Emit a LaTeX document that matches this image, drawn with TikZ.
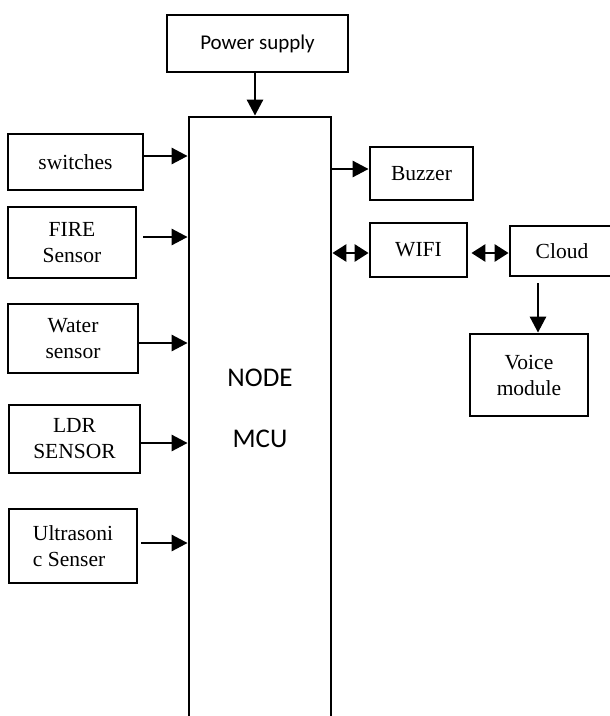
\documentclass[tikz,border=0pt]{standalone}
\usepackage{fontspec}
\setmainfont{Liberation Serif}
\newfontfamily\calfont{Carlito}
\usetikzlibrary{arrows.meta,calc}
\begin{document}
\begin{tikzpicture}[x=1pt,y=-1pt,
  box/.style={draw,line width=2.8pt,inner sep=0pt,align=center,
    font=\fontsize{21.5}{26}\selectfont},
  arr/.style={line width=2.8pt,-{Triangle[length=16pt,width=16pt]}},
  darr/.style={line width=2.8pt,{Triangle[length=14pt,width=17pt]}-{Triangle[length=14pt,width=17pt]}}]
\clip (0,0) rectangle (610,716);
\fill[white] (0,0) rectangle (610,716);
% power supply
\node[box,minimum width=181pt,minimum height=57pt,font=\calfont\fontsize{21}{26}\selectfont] (ps) at (257.5,43.5) {Power supply};
% main block
\node[draw,line width=2.8pt,minimum width=142pt,minimum height=623pt,inner sep=0pt] (mcu) at (260,428.5) {};
\node[font=\calfont\fontsize{27}{32}\selectfont,anchor=base] (t1) at (260,386) {NODE};
\node[font=\calfont\fontsize{27}{32}\selectfont,anchor=base] (t2) at (260,447) {MCU};
% left boxes
\node[box,minimum width=135pt,minimum height=56pt] (sw) at (75.5,162) {switches};
\node[box,minimum width=128pt,minimum height=71pt] (fire) at (72,242.5) {FIRE\\Sensor};
\node[box,minimum width=130pt,minimum height=69pt] (water) at (73,338.5) {Water\\sensor};
\node[box,minimum width=131pt,minimum height=68pt] (ldr) at (74.5,439) {LDR\\SENSOR};
\node[box,minimum width=128pt,minimum height=74pt,align=left] (ultra) at (73,546) {Ultrasoni\\c Senser};
% right boxes
\node[box,minimum width=103pt,minimum height=53pt] (buz) at (421.5,173.5) {Buzzer};
\node[box,minimum width=97pt,minimum height=54pt] (wifi) at (418.5,250) {WIFI};
\node[box,minimum width=104pt,minimum height=50pt] (cloud) at (562,251) {Cloud};
\node[box,minimum width=118pt,minimum height=82pt] (voice) at (529,375) {Voice\\module};
% arrows
\draw[arr] ([xshift=-2.5pt]ps.south) -- ([xshift=-2.5pt]ps.south |- mcu.north);
\draw[arr] ([yshift=6pt]sw.east) -- ([yshift=6pt]sw.east -| mcu.west);
\draw[arr] ([xshift=6pt,yshift=5.5pt]fire.east) -- ([yshift=5.5pt]fire.east -| mcu.west);
\draw[arr] ([yshift=-4.5pt]water.east) -- ([yshift=-4.5pt]water.east -| mcu.west);
\draw[arr] ([yshift=-4pt]ldr.east) -- ([yshift=-4pt]ldr.east -| mcu.west);
\draw[arr] ([xshift=3pt,yshift=3pt]ultra.east) -- ([yshift=3pt]ultra.east -| mcu.west);
\draw[arr] ([yshift=4.5pt]buz.west -| mcu.east) -- ([yshift=4.5pt]buz.west);
\draw[darr] ([yshift=-3pt]wifi.west -| mcu.east) -- ([yshift=-3pt]wifi.west);
\draw[darr] ([xshift=3pt,yshift=-3pt]wifi.east) -- ([yshift=-3pt]wifi.east -| cloud.west);
\draw[arr] ([xshift=-24pt,yshift=-6pt]cloud.south) -- ([xshift=-24pt]cloud.south |- voice.north);
\end{tikzpicture}
\end{document}
